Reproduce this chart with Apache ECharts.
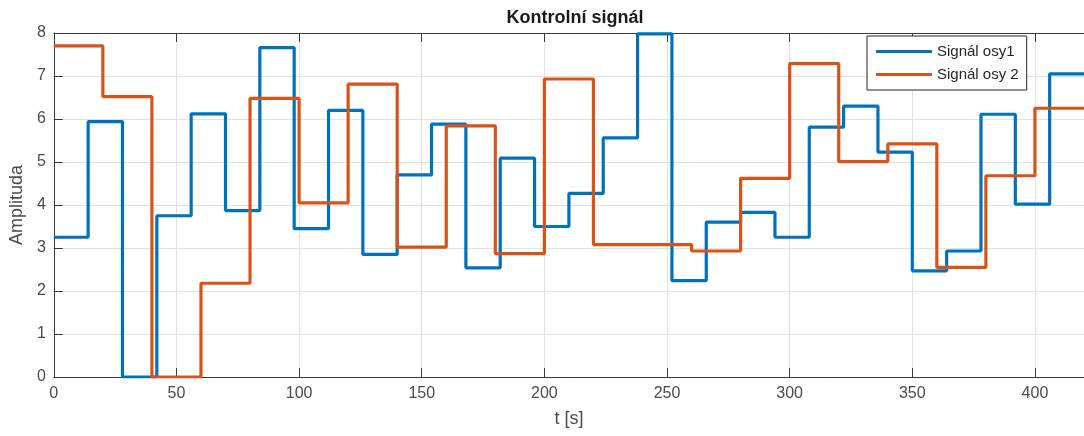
<!DOCTYPE html>
<html>
<head>
<meta charset="utf-8">
<script src="https://cdn.jsdelivr.net/npm/echarts@6/dist/echarts.min.js"></script>
<style>
  html, body { margin: 0; padding: 0; background: #fff; }
  #chart { width: 1084px; height: 436px; }
</style>
</head>
<body>
<div id="chart"></div>
<script>
// Step change instants [s] and held levels for each axis command signal
const axis1Times = [0, 14, 28, 42, 56, 70, 84, 98, 112, 126, 140, 154, 168, 182, 196,
                    210, 224, 238, 252, 266, 280, 294, 308, 322, 336, 350, 364, 378, 392, 406];
const axis1Levels = [3.25, 5.94, 0, 3.75, 6.12, 3.87, 7.66, 3.45, 6.2, 2.85, 4.7, 5.88, 2.54, 5.09, 3.5,
                     4.27, 5.56, 7.98, 2.24, 3.6, 3.83, 3.25, 5.81, 6.3, 5.23, 2.47, 2.93, 6.11, 4.02, 7.05];

const axis2Times = [0, 20, 40, 60, 80, 100, 120, 140, 160, 180, 200,
                    220, 240, 260, 280, 300, 320, 340, 360, 380, 400];
const axis2Levels = [7.7, 6.52, 0, 2.18, 6.48, 4.05, 6.81, 3.02, 5.84, 2.87, 6.93,
                     3.08, 3.08, 2.93, 4.62, 7.29, 5.01, 5.42, 2.55, 4.68, 6.25];

const tEnd = 420;
const xTicks = [0, 50, 100, 150, 200, 250, 300, 350, 400];
const yTicks = [0, 1, 2, 3, 4, 5, 6, 7, 8];

const seriesNames = ['Signál osy1', 'Signál osy 2'];

// hold the last level up to the end of the record
function stepPoints(times, levels) {
  const pts = times.map((t, i) => [t, levels[i]]);
  pts.push([tEnd, levels[levels.length - 1]]);
  return pts;
}

const axisColor = '#3a3a3a';
const labelColor = '#4a4a4a';
const gridColor = '#e2e2e2';
const fontFamily = 'Liberation Sans, Arial, Helvetica, sans-serif';
// plain line sample for the legend entries
const lineIcon = 'path://M0,0H56V3H0Z';

const chart = echarts.init(document.getElementById('chart'), null, { renderer: 'canvas' });

chart.setOption({
  backgroundColor: '#ffffff',
  animation: false,
  title: {
    text: 'Kontrolní signál',
    left: 570,
    textAlign: 'center',
    top: 4,
    textStyle: { fontFamily, fontSize: 18, fontWeight: 'bold', color: '#1a1a1a' }
  },
  legend: {
    orient: 'vertical',
    left: 867,
    top: 36,
    padding: [8, 8, 8, 9],
    itemWidth: 56,
    itemHeight: 14,
    itemGap: 8,
    symbolKeepAspect: true,
    borderColor: '#262626',
    borderWidth: 1,
    backgroundColor: '#ffffff',
    borderRadius: 0,
    textStyle: { fontFamily, fontSize: 15, color: '#262626' },
    data: seriesNames.map(n => ({ name: n, icon: lineIcon }))
  },
  grid: { left: 52, top: 33, width: 1035, height: 344, containLabel: false },
  xAxis: [
    {
      type: 'value',
      min: 0,
      max: tEnd,
      interval: xTicks[1] - xTicks[0],
      name: 't [s]',
      nameLocation: 'middle',
      nameGap: 33,
      nameTextStyle: { fontFamily, fontSize: 18, color: labelColor },
      axisLine: { show: true, onZero: false, lineStyle: { color: axisColor, width: 1 } },
      axisTick: { show: true, inside: true, length: 9, lineStyle: { color: axisColor } },
      axisLabel: {
        margin: 9,
        fontFamily, fontSize: 16, color: labelColor,
        showMaxLabel: false,
        formatter: v => (xTicks.indexOf(v) >= 0 ? String(v) : '')
      },
      splitLine: { show: true, lineStyle: { color: gridColor, width: 1 } }
    },
    {
      type: 'value',
      position: 'top',
      min: 0,
      max: tEnd,
      interval: xTicks[1] - xTicks[0],
      axisLine: { show: true, onZero: false, lineStyle: { color: axisColor, width: 1 } },
      axisTick: { show: true, inside: true, length: 9, lineStyle: { color: axisColor } },
      axisLabel: { show: false },
      splitLine: { show: false }
    }
  ],
  yAxis: {
    type: 'value',
    min: yTicks[0],
    max: yTicks[yTicks.length - 1],
    interval: 1,
    name: 'Amplituda',
    nameLocation: 'middle',
    nameGap: 27,
    nameTextStyle: { fontFamily, fontSize: 18, color: labelColor },
    axisLine: { show: true, onZero: false, lineStyle: { color: axisColor, width: 1 } },
    axisTick: { show: true, inside: true, length: 9, lineStyle: { color: axisColor } },
    axisLabel: { margin: 8, fontFamily, fontSize: 16, color: labelColor },
    splitLine: { show: true, lineStyle: { color: gridColor, width: 1 } }
  },
  series: [
    {
      name: seriesNames[0],
      type: 'line',
      step: 'end',
      symbol: 'none',
      clip: true,
      color: '#0072BD',
      lineStyle: { color: '#0072BD', width: 3.2 },
      data: stepPoints(axis1Times, axis1Levels),
      z: 3
    },
    {
      name: seriesNames[1],
      type: 'line',
      step: 'end',
      symbol: 'none',
      clip: true,
      color: '#D95319',
      lineStyle: { color: '#D95319', width: 3.2 },
      data: stepPoints(axis2Times, axis2Levels),
      z: 4
    }
  ]
});
</script>
</body>
</html>
